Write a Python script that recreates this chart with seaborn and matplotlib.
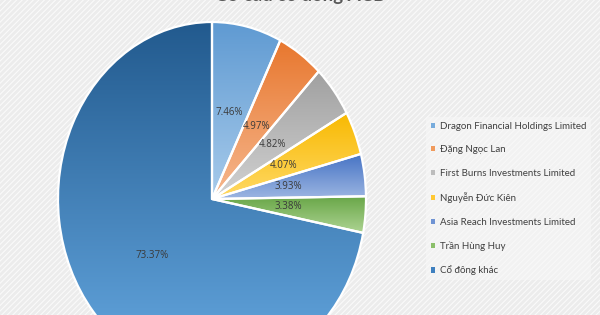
import numpy as np
import matplotlib
matplotlib.use("Agg")
import matplotlib.pyplot as plt
from matplotlib.patches import Rectangle
from matplotlib.colors import LinearSegmentedColormap
import seaborn as sns

# ---- data ----
shareholders = [
    "Dragon Financial Holdings Limited",
    "Đặng Ngọc Lan",
    "First Burns Investments Limited",
    "Nguyễn Đức Kiên",
    "Asia Reach Investments Limited",
    "Trần Hùng Huy",
    "Cổ đông khác",
]
shares_pct = [7.46, 4.97, 4.82, 4.07, 3.93, 3.38, 73.37]
title_text = "Cơ cấu cổ đông ACB"

# ---- style ----
sns.set_theme(style="white")
plt.rcParams["font.family"] = ["Lato", "DejaVu Sans"]

grad_top = ["#5f9ad2", "#e8772e", "#a0a0a0", "#f8b900", "#4472c4", "#68a647", "#225a8e"]
grad_bot = ["#a8cbeb", "#f6b88f", "#d2d2d2", "#ffd966", "#9db6e2", "#aed493", "#66a9e2"]
mid_cols = ["#78acdc", "#f09a5c", "#bdbdbd", "#ffc833", "#6f93d3", "#8bbf6a", "#3f80bf"]

fig = plt.figure(figsize=(6.0, 3.15), dpi=100)
fig.patch.set_facecolor("#eeeeee")

# background with diagonal stripes
bg = fig.add_axes([0, 0, 1, 1])
bg.set_axis_off()
plt.rcParams["hatch.linewidth"] = 0.8
bg.add_patch(Rectangle((0, 0), 1, 1, transform=bg.transAxes, facecolor="#ececec",
                       edgecolor="#fafafa", hatch="//////", linewidth=0))

ax = fig.add_axes([0, 0, 1, 1])
ax.set_axis_off()
ax.patch.set_alpha(0)

vals_iter = iter(shares_pct)
wedges, texts, autotexts = ax.pie(
    shares_pct, startangle=90, counterclock=False, colors=mid_cols,
    autopct=lambda p: f"{next(vals_iter):.2f}%", pctdistance=0.5,
    wedgeprops=dict(edgecolor="white", linewidth=1.6),
    textprops=dict(fontsize=7, color="#3a3a3a", family=["Open Sans", "DejaVu Sans"]),
)

# vertical gradient fill per wedge
for w, c0, c1 in zip(wedges, grad_top, grad_bot):
    ext = w.get_path().get_extents()
    cmap = LinearSegmentedColormap.from_list("g", [c0, c1])
    grad = np.linspace(0, 1, 256).reshape(-1, 1)
    im = ax.imshow(grad, cmap=cmap, aspect="auto", origin="upper",
                   extent=[ext.x0, ext.x1, ext.y0, ext.y1], zorder=1)
    im.set_clip_path(w)
    w.set_facecolor("none")
    w.set_zorder(2)
for t in autotexts:
    t.set_zorder(3)

# elliptical pie: horizontal radius 154 px, vertical 177 px, center (212,199)
cx, cy, rx, ry = 212, 199, 154, 177
ax.set_aspect("auto")
ax.set_xlim(-cx / rx, (600 - cx) / rx)
ax.set_ylim(-(315 - cy) / ry, cy / ry)

leg = ax.legend(
    [Rectangle((0, 0), 1, 1, facecolor=c, edgecolor="none") for c in mid_cols],
    shareholders, loc="upper left", bbox_to_anchor=(421 / 600, 1 - 112 / 315),
    frameon=True, fontsize=7, handlelength=0.45, handleheight=0.45,
    handletextpad=0.5, labelspacing=1.5, borderpad=0.5,
    prop=dict(family=["Lato", "DejaVu Sans"], size=7),
)
leg.get_frame().set_facecolor("#f7f7f7")
leg.get_frame().set_alpha(0.6)
leg.get_frame().set_edgecolor("none")
for t in leg.get_texts():
    t.set_color("#404040")

fig.text(0.5, 1 - 1.5 / 315, title_text, ha="center", va="baseline",
         fontsize=13.5, fontweight="bold", color="#595959")

fig.savefig("out.png", dpi=100, facecolor=fig.get_facecolor())
